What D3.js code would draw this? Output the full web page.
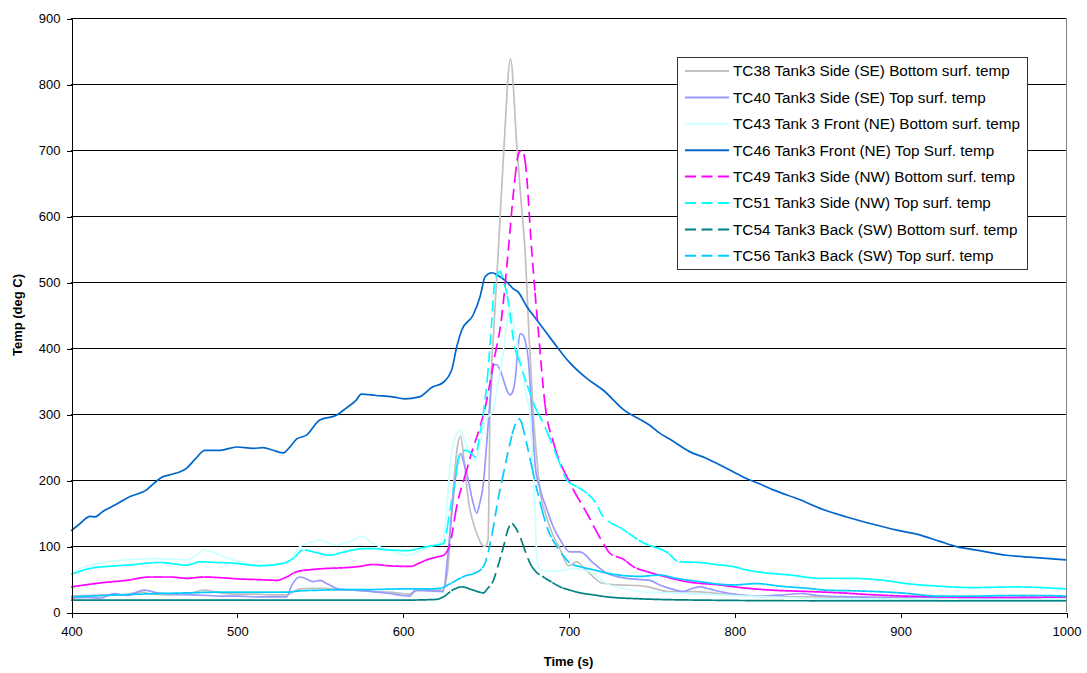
<!DOCTYPE html>
<html><head><meta charset="utf-8">
<script src="https://cdn.jsdelivr.net/npm/d3@7"></script>
<style>
body{margin:0;background:#fff;}
text{font-family:"Liberation Sans",Arial,sans-serif;}
</style>
</head><body>
<svg id="chart" width="1087" height="673"></svg>
<script>
// ---- data: [time (s), temperature (deg C)] ----
const tc38 = [[400,24],[410,25],[420,26],[430,26],[442,30],[450,27],[460,26],[470,27],[480,33],[490,29],[500,27],[510,27],[520,26],[530,26],[538,35],[546,36],[554,36],[562,33],[572,33],[582,31],[592,30],[600,28],[604,27],[608,32],[616,33],[624,33],[627,60],[630,170],[633,250],[635,266],[637,230],[639.6,170],[642,140],[644.7,119],[647,105],[649.7,99],[651.5,110],[652.7,306],[655,430],[657.7,548],[661,700],[665,838],[669,700],[671.5,620],[673.8,548],[676,430],[678.6,306],[681,230],[683,180],[686,150],[690,120],[695,95],[700,70],[705,76],[710,65],[715,53],[720,44],[730,41],[743,40],[750,37],[760,31],[776,31],[790,28],[800,26],[820,23],[850,23],[880,22],[920,22],[960,22],[1000,22]];
const tc40 = [[400,21],[410,22],[418,21],[426,28],[434,25],[444,33],[452,29],[462,27],[472,26],[482,25],[492,24],[502,24],[512,23],[522,23],[530,23],[533,40],[538,53],[542,50],[546,46],[550,48],[555,42],[560,36],[570,33],[582,31],[592,28],[600,25],[604,24],[608,33],[616,32],[624.5,31],[627,80],[630,160],[633,225],[635,240],[637,225],[639.6,200],[642,170],[644.7,150],[646.5,165],[648.7,195],[650.5,250],[652.7,321],[654.7,374],[656.5,375],[658.7,367],[661,350],[663,335],[664.8,329],[666.5,335],[667.8,351],[669.5,400],[670.8,422],[672.5,420],[673.8,412],[675.8,382],[677.8,306],[680,220],[683,185],[687,155],[691,128],[695,109],[701,91],[707,91],[715,74],[723,59],[735,51],[749,48],[755,41],[762,35],[769,31],[775,36],[779,38],[785,35],[791,31],[803,26],[815,24],[830,26],[840,28],[850,25],[870,23],[900,22],[950,22],[1000,22]];
const tc43 = [[400,57],[405,65],[411.5,71],[422,76],[433.6,79],[450,81],[462,80],[470,79],[475,85],[480,94],[485,91],[490,86],[502,76],[514,71],[522,72],[530,74],[534,85],[538,99],[544,105],[550,109],[555,105],[560,101],[564,104],[568,106],[572,112],[576,115],[580,108],[586,99],[594,92],[602.5,86],[610,92],[616.5,99],[622,105],[624.6,109],[626.6,160],[628.6,220],[631,260],[634.6,276],[636.6,265],[638.6,250],[641,235],[644,230],[647,260],[650,290],[654.7,306],[657,340],[660.8,397],[663,440],[664.8,463],[666.8,437],[668.8,410],[670.8,382],[672.8,355],[674.8,326],[676.8,300],[678,250],[679,200],[680,140],[681,79],[683,64],[690,62],[697,63],[703,66],[709,63],[715,59],[719,50],[723,43],[733,36],[743,31],[760,29],[780,27],[800,25],[830,22],[860,20],[900,20],[920,19],[930,15],[940,19],[960,19],[1000,20]];
const tc46 = [[400,123],[405,133],[411.5,145],[414.5,144],[419,152],[426.5,162],[435.6,175],[445.6,185],[450,195],[454.7,204],[461.5,209],[469.8,218],[475,232],[480.8,245],[489.9,245],[500,250],[509.8,248],[515.9,249],[522,245],[528,241],[532,250],[536,262],[542,268],[550,291],[560,298],[566,309],[572,321],[575,330],[584,328],[594,326],[601,323],[610,326],[618,341],[624,347],[629.6,367],[632.6,402],[635.6,427],[642.5,450],[646.7,478],[649.7,508],[653.7,514],[657.5,510],[662.8,500],[666.6,490],[669.6,485],[674.8,463],[681,442],[687,422],[693,402],[701,377],[711,354],[721,336],[733,307],[749,283],[755,271],[761,262],[773,243],[783,233],[791,223],[799,213],[807.5,202],[815.5,194],[823.5,185],[839.7,170],[851.7,157],[867.8,144],[883.7,133],[898,124],[910,118],[924,107],[934,99],[948,93],[964,86],[978,83],[990,81],[1000,79]];
const tc49 = [[400,38],[417.5,44],[433.6,48],[447.6,53],[460,53],[470,51],[480,53],[490,52],[502,50],[514,49],[524,48],[530,53],[536,61],[544,64],[554,66],[564,67],[574,69],[582,72],[592,70],[604.5,69],[610,74],[614.5,79],[620,83],[624.6,86],[628.6,104],[632.6,160],[638.6,215],[642,245],[646.7,281],[650.7,321],[654.7,377],[659.7,447],[663.7,548],[667,640],[670,695],[672,700],[674,680],[677.8,548],[682,420],[686,311],[691,256],[701,195],[711,150],[721,104],[725,89],[733,80],[739,69],[749,60],[759,53],[771,46],[791,41],[807.5,36],[823.5,33],[845,31],[864,29],[884,26],[904,24],[924,23],[944,22],[970,22],[1000,23]];
const tc51 = [[400,57],[411.5,66],[422,69],[433.6,71],[453.7,75],[470,71],[477.8,76],[488,75],[498,74],[514,70],[528,74],[534,81],[540,94],[548,90],[556,86],[563,90],[570,94],[576,96],[582,96],[592,94],[602.5,93],[614.5,99],[624.6,104],[628.6,155],[631.6,200],[634.6,240],[637.6,245],[641.6,240],[643.6,235],[646.7,271],[649.7,321],[651.7,372],[653.7,440],[655.7,503],[658.7,516],[660.8,500],[662.8,483],[664.8,450],[666.8,412],[670.8,377],[674.8,346],[679.8,311],[685,285],[689,261],[694,230],[699,200],[705,190],[711,180],[717,163],[720,148],[733,125],[745,105],[759,91],[767,76],[779,75],[789,72],[799,69],[807,64],[813.5,61],[833.7,56],[851.7,51],[870,51],[890,48],[904,43],[924,39],[944,37],[970,38],[985,37],[1000,35]];
const tc54 = [[400,18],[450,18],[500,18],[550,18],[600,18],[620,19],[624.6,23],[630,33],[635.6,38],[642.7,33],[648.7,29],[651,35],[654.7,48],[657.5,70],[660.8,99],[663.5,125],[665.8,134],[668,128],[670.8,114],[673.5,95],[676.8,74],[680,62],[684.9,53],[690,45],[695,38],[701,33],[707,29],[715,26],[723,23],[743,20],[780,18],[850,17],[1000,17]];
const tc56 = [[400,23],[420,25],[440,27],[454,28],[470,29],[490,30],[510,30],[530,30],[538,32],[550,33],[562,34],[580,34],[600,35],[615,35],[622.6,36],[628,42],[634.6,51],[638,55],[642.7,58],[648.7,69],[651.5,90],[654.7,129],[657.5,170],[660.8,210],[663.8,245],[666.8,276],[669.8,293],[671.5,288],[673.8,266],[677,230],[681,185],[684,155],[687,129],[693,99],[697,85],[701,74],[708,68],[715,64],[723,59],[743,54],[755,56],[765,51],[779,46],[799,41],[813.5,43],[828,39],[843.7,36],[856,33],[874,32],[900,29],[924,24],[944,24],[965,25],[984,25],[1000,24]];

const seriesData = [tc38, tc40, tc43, tc46, tc49, tc51, tc54, tc56];
const seriesNames = [
  "TC38 Tank3 Side (SE) Bottom surf. temp",
  "TC40 Tank3 Side (SE) Top surf. temp",
  "TC43 Tank 3 Front (NE) Bottom surf. temp",
  "TC46 Tank3 Front (NE) Top Surf. temp",
  "TC49 Tank3 Side (NW) Bottom surf. temp",
  "TC51 Tank3 Side (NW) Top surf. temp",
  "TC54 Tank3 Back (SW) Bottom surf. temp",
  "TC56 Tank3 Back (SW) Top surf. temp"
];
const xTicks = [400, 500, 600, 700, 800, 900, 1000];
const yTicks = [0, 100, 200, 300, 400, 500, 600, 700, 800, 900];
const xTitle = "Time (s)";
const yTitle = "Temp (deg C)";

// ---- styles ----
const colors = ["#C0C0C0", "#9999FF", "#CCFFFF", "#0066CC", "#FF00FF", "#00FFFF", "#008080", "#00CCFF"];
const dashed = [false, false, false, false, true, true, true, true];

const W = 1087, H = 673;
const M = {left: 71, right: 21, top: 18, bottom: 61};
const svg = d3.select("#chart");
const x = d3.scaleLinear().domain([400, 1000]).range([M.left, W - M.right]);
const y = d3.scaleLinear().domain([0, 900]).range([H - M.bottom, M.top]);

// gridlines
svg.append("g").attr("shape-rendering", "crispEdges")
  .selectAll("line").data(yTicks.filter(d => d > 0)).join("line")
  .attr("x1", x(400)).attr("x2", x(1000))
  .attr("y1", d => y(d) + 0.5).attr("y2", d => y(d) + 0.5)
  .attr("stroke", "#000").attr("stroke-width", 1);
// right border
svg.append("line").attr("shape-rendering", "crispEdges")
  .attr("x1", x(1000) + 0.5).attr("x2", x(1000) + 0.5).attr("y1", y(900)).attr("y2", y(0))
  .attr("stroke", "#808080").attr("stroke-width", 1);

// lines
const line = d3.line().x(d => x(d[0])).y(d => y(d[1])).curve(d3.curveMonotoneX);
const lineG = svg.append("g").attr("fill", "none").attr("stroke-width", 1.7).attr("stroke-linejoin", "round");
const dashArr = "11,6";
const restartStep = x(406) - x(400); // dash pattern restarts for each data segment, like the original

seriesData.forEach((data, i) => {
  const dStr = line(data);
  if (!dashed[i]) {
    lineG.append("path").attr("d", dStr).attr("stroke", colors[i]);
    return;
  }
  const tmp = lineG.append("path").attr("d", dStr);
  const node = tmp.node();
  const L = node.getTotalLength();
  const pts = [];
  for (let l = 0; l < L; l += 0.5) pts.push(node.getPointAtLength(l));
  pts.push(node.getPointAtLength(L));
  tmp.remove();
  const chunks = [];
  let chunk = [pts[0]], sx = pts[0].x;
  for (let k = 1; k < pts.length; k++) {
    chunk.push(pts[k]);
    if (pts[k].x - sx >= restartStep) { chunks.push(chunk); chunk = [pts[k]]; sx = pts[k].x; }
  }
  if (chunk.length > 1) chunks.push(chunk);
  const g = lineG.append("g").attr("stroke", colors[i]).attr("stroke-dasharray", dashArr);
  g.selectAll("path").data(chunks).join("path")
    .attr("d", c => "M" + c.map(p => p.x.toFixed(2) + "," + p.y.toFixed(2)).join("L"));
});

// axes
const yAxis = svg.append("g").attr("transform", `translate(${x(400) + 0.5},0.5)`)
  .call(d3.axisLeft(y).tickValues(yTicks).tickFormat(d3.format("d")).tickSize(5).tickSizeOuter(0).tickPadding(6));
const xAxis = svg.append("g").attr("transform", `translate(0.5,${y(0) + 0.5})`)
  .call(d3.axisBottom(x).tickValues(xTicks).tickFormat(d3.format("d")).tickSize(5).tickSizeOuter(0).tickPadding(9));
[yAxis, xAxis].forEach(a => {
  a.attr("shape-rendering", "crispEdges");
  a.selectAll("path,line").attr("stroke", "#000");
  a.selectAll("text").attr("fill", "#000").style("font-size", "13px").style("font-family", '"Liberation Sans",Arial,sans-serif');
});

svg.append("text").attr("x", (x(400) + x(1000)) / 2).attr("y", 666)
  .attr("text-anchor", "middle").style("font-size", "13px").style("font-weight", "bold").text(xTitle);
svg.append("text").attr("transform", `translate(22,${(y(0) + y(900)) / 2}) rotate(-90)`)
  .attr("text-anchor", "middle").style("font-size", "13px").style("font-weight", "bold").text(yTitle);

// legend
const lg = svg.append("g");
lg.append("rect").attr("x", 677.5).attr("y", 57.5).attr("width", 350).attr("height", 212)
  .attr("fill", "#fff").attr("stroke", "#333").attr("stroke-width", 1);
seriesNames.forEach((name, i) => {
  const cy = 71 + i * 26.4;
  lg.append("line").attr("x1", 685).attr("x2", 729).attr("y1", cy).attr("y2", cy)
    .attr("stroke", colors[i]).attr("stroke-width", 2)
    .attr("stroke-dasharray", dashed[i] ? "11,5.5" : null);
  lg.append("text").attr("x", 733).attr("y", cy).attr("dy", "0.35em")
    .style("font-size", "15.3px").attr("fill", "#000").text(name);
});
</script>
</body></html>
